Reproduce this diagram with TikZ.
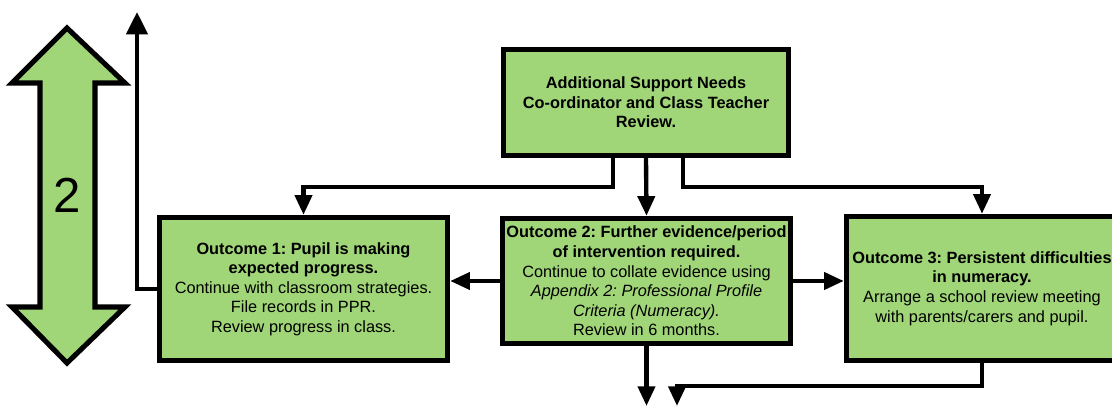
\documentclass[tikz,border=0pt]{standalone}
\usepackage{fontspec}
\setmainfont{Liberation Sans}
\usetikzlibrary{arrows.meta, positioning}
\definecolor{asngreen}{RGB}{160,214,120}
\frenchspacing

\begin{document}
\begin{tikzpicture}[x=0.025cm, y=-0.025cm,
		stepbox/.style={draw, line width=3.8pt, fill=asngreen, align=center,
			font=\fontsize{11.6}{13.9}\selectfont, inner sep=0pt},
		flow/.style={line width=3.1pt, -{Triangle[width=12pt, length=14pt]}}]
			\useasboundingbox (0,0) rectangle (1112,406);

			% Draw the big double arrow
			\draw[fill=asngreen, line width=3.6pt, line join=miter]
				(67,28) -- (125,83) -- (95,83) -- (95,307) -- (125,307) -- (67,363)
				-- (12,307) -- (40,307) -- (40,83) -- (12,83) -- cycle;
			\node (level) at (67,195) {\fontsize{35}{40}\selectfont 2};

			% Draw the boxes
			\node[stepbox, minimum width=7.125cm, minimum height=2.65cm] (review) at (646,102.5)
				{\textbf{Additional Support Needs}\\ \textbf{Co-ordinator and Class Teacher}\\ \textbf{Review.}};
			\node[stepbox, minimum width=7.2cm, minimum height=3.575cm] (out1) at (303.5,289)
				{\textbf{Outcome 1: Pupil is making}\\ \textbf{expected progress.}\\
				Continue with classroom strategies.\\ File records in PPR.\\ Review progress in class.};
			\node[stepbox, minimum width=7.2cm, minimum height=3.125cm] (out2) at (646.5,281)
				{\textbf{Outcome 2: Further evidence/period}\\ \textbf{of intervention required.}\\
				Continue to collate evidence using\\ \textit{Appendix 2: Professional Profile}\\
				\textit{Criteria (Numeracy).}\\ Review in 6 months.};
			\node[stepbox, minimum width=6.775cm, minimum height=3.6cm] (out3) at (982,288.5)
				{\textbf{Outcome 3: Persistent difficulties}\\ \textbf{in numeracy.}\\
				Arrange a school review meeting\\ with parents/carers and pupil.};

			% Free ends of the arrows
			\coordinate (up) at (137,12);
			\coordinate (down2) at (647,406);
			\coordinate (down3) at (677,406);

			% Draw the arrows from the review
			\draw[flow] ([xshift=-0.825cm]review.south) -- ++(0,29) -| (out1.north);
			\draw[flow] (review.south) -- (out2.north);
			\draw[flow] ([xshift=0.925cm]review.south) -- ++(0,29) -| (out3.north);

			% Draw the arrows between the outcomes
			\draw[flow] (out2.west) -- (out1.east |- out2.west);
			\draw[flow] (out2.east) -- (out3.west |- out2.east);

			% Draw the arrows leaving the picture
			\draw[flow, -{Triangle[width=15pt, length=16pt]}] (out1.west) -| (up);
			\draw[flow] (out2.south) -- (out2.south |- down2);
			\draw[flow] (out3.south) -- ++(0,23) -| (down3);

		\end{tikzpicture}
\end{document}
